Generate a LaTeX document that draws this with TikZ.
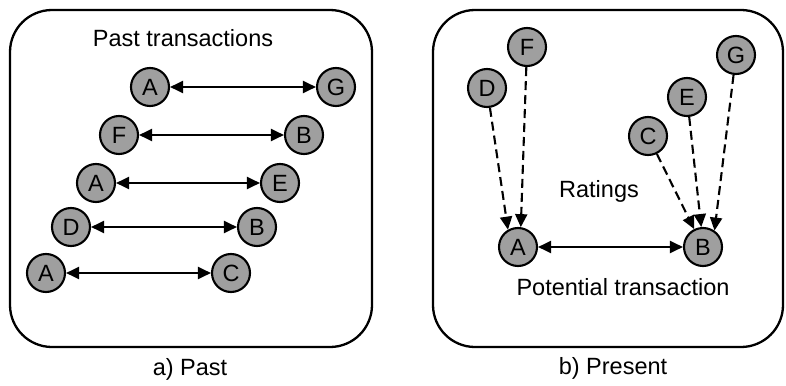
\documentclass[tikz,border=0pt]{standalone}
\usepackage{fontspec}
\setmainfont{Liberation Sans}
\usetikzlibrary{arrows.meta}

\begin{document}
\begin{tikzpicture}[x=1pt, y=-1pt,
    peer/.style={circle, draw=black, line width=2.1pt, fill=gray!75,
        minimum size=38pt, inner sep=0pt, font=\fontsize{23.5}{28}\selectfont},
    label/.style={font=\fontsize{23.5}{28}\selectfont},
    deal/.style={line width=2.1pt, {Triangle[length=13pt,width=12pt]}-{Triangle[length=13pt,width=12pt]}},
    rate/.style={line width=2.1pt, dash pattern=on 9pt off 5pt, -{Triangle[length=13pt,width=12pt]}}]
    \useasboundingbox (0,0) rectangle (786,385);

    \draw[line width=2.3pt, rounded corners=42pt] (10,10) rectangle (372,347);
    \draw[line width=2.3pt, rounded corners=42pt] (433,10) rectangle (783,347);

    % a) past
    \node[label] (pasttitle) at (183,38) {Past transactions};
    \node[peer] (a1) at (150,87) {A};
    \node[peer] (g1) at (336,87) {G};
    \node[peer] (f1) at (119,135) {F};
    \node[peer] (b1) at (304,135) {B};
    \node[peer] (a2) at (96,183) {A};
    \node[peer] (e1) at (280,183) {E};
    \node[peer] (d1) at (71,227) {D};
    \node[peer] (b2) at (257,227) {B};
    \node[peer] (a3) at (46,273) {A};
    \node[peer] (c1) at (231,273) {C};

    \draw[deal] (a1) -- (g1);
    \draw[deal] (f1) -- (b1);
    \draw[deal] (a2) -- (e1);
    \draw[deal] (d1) -- (b2);
    \draw[deal] (a3) -- (c1);

    \node[label] (pastcap) at (190,369) {a) Past};

    % b) present
    \node[peer] (f) at (527,47) {F};
    \node[peer] (d) at (487,88) {D};
    \node[peer] (g) at (736,55) {G};
    \node[peer] (e) at (687,97) {E};
    \node[peer] (c) at (648,136) {C};
    \node[peer] (a) at (518,247) {A};
    \node[peer] (b) at (703,247) {B};

    \node[label] (ratings) at (599,191) {Ratings};
    \node[label] (potential) at (623,287) {Potential transaction};

    \draw[rate] (d) -- (a.120);
    \draw[rate] (f) -- (a.82);
    \draw[rate] (c) -- (b);
    \draw[rate] (e) -- (b.95);
    \draw[rate] (g) -- (b.55);
    \draw[deal] (a) -- (b);

    \node[label] (presentcap) at (613,368) {b) Present};
\end{tikzpicture}
\end{document}
